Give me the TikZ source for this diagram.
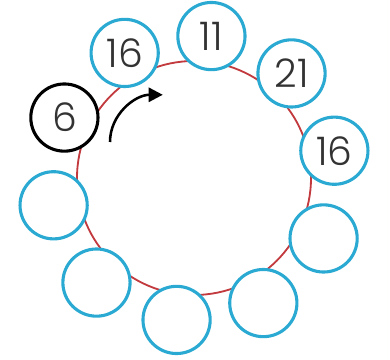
\documentclass[tikz,border=0pt]{standalone}
\usepackage{fontspec}
\newfontfamily\numfont{Poppins}[UprightFont=* Light]
\usetikzlibrary{arrows.meta,calc}
\definecolor{ringred}{HTML}{C23A3E}
\definecolor{sky}{HTML}{2AAAD2}
\definecolor{digit}{HTML}{333333}
\tikzset{>={Triangle[length=10pt,width=10pt]},ball/.style={circle,draw=sky,line width=2.2pt,fill=white,minimum size=1.68cm,inner sep=0pt,font=\numfont\fontsize{28}{28}\selectfont,text=digit},first/.style={ball,draw=black},turn/.style={->,line width=1.8pt,black}}

\begin{document}
\begin{tikzpicture}
\useasboundingbox (0,0) rectangle (9.75,9);
\coordinate (c) at (4.85,4.55);
\draw[ringred,line width=1.3pt] (c) circle (2.925);
% ten places round the ring, counted from the top
\foreach \k/\lab in {0/11,1/21,2/16,3/,4/,5/,6/,7/,9/16}{
\node[ball] (b\k) at ($(c)+({83-36*\k}:3.575)$) {\lab};}
\node[first] (b8) at ($(c)+({83-36*8}:3.575)$) {6};
\coordinate (from) at (2.75,5.45);
\coordinate (to) at (4.07,6.63);
\draw[turn] (from) to[out=90,in=180] (to);
\end{tikzpicture}
\end{document}
